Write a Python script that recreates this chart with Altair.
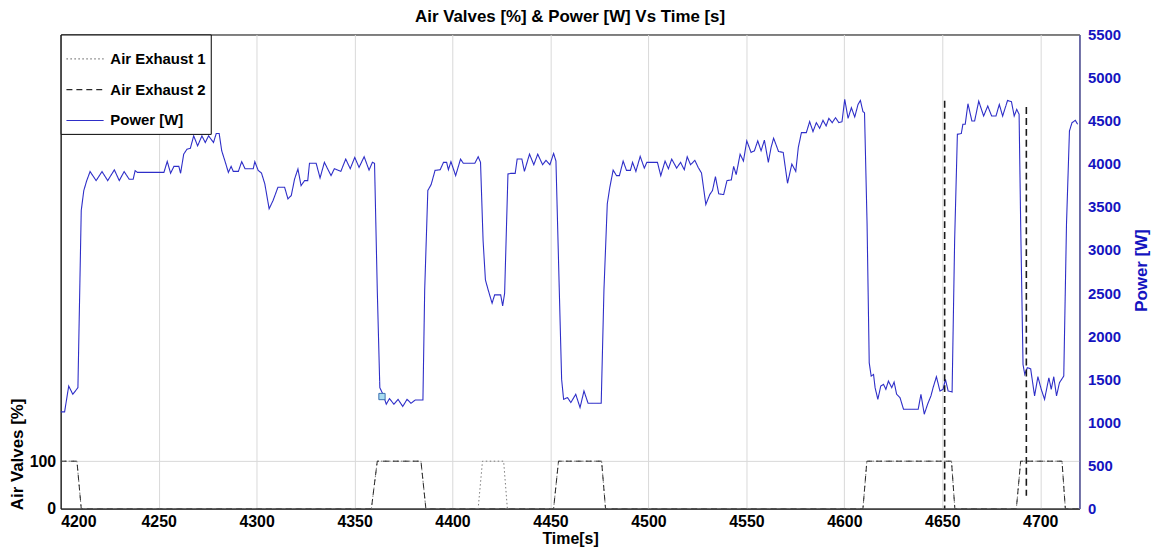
import altair as alt
import pandas as pd

# ---------------- data ----------------
time_power = [
    4200.0, 4202.0, 4204.1, 4206.2, 4208.8, 4210.5, 4211.8, 4213.3, 4215.0, 4218.1,
    4221.1, 4224.0, 4227.4, 4229.9, 4232.4, 4235.0, 4237.0, 4238.0, 4239.2, 4252.7,
    4254.4, 4256.1, 4257.8, 4260.3, 4261.2, 4262.8, 4264.5, 4266.2, 4267.9, 4269.9,
    4272.1, 4273.8, 4275.5, 4278.0, 4279.4, 4280.9, 4282.2, 4283.9, 4285.6, 4287.0,
    4288.1, 4290.7, 4292.4, 4294.1, 4298.3, 4299.1, 4300.8, 4302.5, 4304.2, 4306.4,
    4308.4, 4310.9, 4314.3, 4316.0, 4317.7, 4319.4, 4321.1, 4322.7, 4324.5, 4326.1,
    4327.0, 4330.4, 4332.4, 4334.6, 4338.0, 4339.7, 4343.0, 4345.5, 4347.8, 4350.1,
    4352.3, 4354.9, 4357.4, 4359.1, 4360.2, 4361.6, 4362.9, 4364.5, 4366.2, 4367.8,
    4370.1, 4372.2, 4374.6, 4376.8, 4378.8, 4381.0, 4384.9, 4385.8, 4387.4, 4389.1,
    4391.1, 4393.7, 4395.4, 4397.0, 4397.9, 4399.2, 4401.6, 4404.1, 4405.5, 4411.4,
    4413.1, 4414.3, 4415.6, 4416.8, 4418.2, 4420.2, 4421.5, 4424.6, 4425.6, 4426.6,
    4428.3, 4429.7, 4432.0, 4433.0, 4435.4, 4436.7, 4439.3, 4441.5, 4443.5, 4446.0,
    4447.7, 4449.7, 4451.6, 4452.8, 4454.5, 4455.7, 4456.7, 4458.7, 4460.4, 4462.9,
    4465.1, 4467.1, 4469.2, 4475.9, 4477.3, 4479.0, 4480.3, 4482.0, 4483.7, 4485.2,
    4487.1, 4488.8, 4490.8, 4491.9, 4493.6, 4495.8, 4497.9, 4499.2, 4504.6, 4506.3,
    4508.5, 4510.2, 4511.9, 4514.4, 4516.4, 4518.3, 4519.8, 4521.5, 4523.7, 4525.4,
    4527.1, 4529.3, 4531.3, 4532.7, 4534.2, 4535.9, 4538.4, 4540.1, 4542.3, 4543.5,
    4544.8, 4546.8, 4548.5, 4550.2, 4552.4, 4554.1, 4555.8, 4557.5, 4559.2, 4561.2,
    4562.6, 4563.9, 4566.4, 4568.8, 4571.0, 4573.2, 4575.2, 4576.5, 4578.1, 4580.6,
    4582.3, 4584.0, 4585.7, 4587.4, 4589.1, 4590.7, 4592.1, 4593.8, 4595.5, 4597.2,
    4598.8, 4600.2, 4601.9, 4603.6, 4605.3, 4607.0, 4608.2, 4609.5, 4610.3, 4611.6,
    4612.7, 4613.7, 4614.9, 4615.7, 4617.1, 4618.6, 4620.0, 4621.2, 4622.5, 4624.2,
    4625.4, 4626.7, 4628.4, 4630.2, 4637.7, 4639.1, 4640.8, 4642.5, 4644.2, 4645.3,
    4647.0, 4648.8, 4650.4, 4651.6, 4653.0, 4655.0, 4656.3, 4657.7, 4659.7, 4660.5,
    4661.7, 4663.1, 4665.1, 4666.5, 4668.6, 4671.1, 4673.2, 4675.2, 4677.4, 4679.1,
    4680.8, 4683.3, 4685.3, 4686.7, 4688.0, 4689.2, 4690.0, 4691.2, 4692.1, 4693.4,
    4695.1, 4697.1, 4698.8, 4700.5, 4702.2, 4704.4, 4705.6, 4706.9, 4708.3, 4709.8,
    4712.0, 4713.4, 4714.9, 4716.2, 4717.9, 4719.1,
]
power_w = [
    1122, 1122, 1422, 1326, 1403, 3459, 3690, 3805, 3910, 3805,
    3910, 3805, 3930, 3805, 3910, 3820, 3820, 3920, 3900, 3900,
    4028, 3890, 3970, 3970, 3890, 4112, 4170, 4181, 4324, 4208,
    4324, 4247, 4324, 4247, 4351, 4351, 4151, 4028, 3900, 3970,
    3912, 3912, 4025, 3943, 3943, 4025, 3924, 3893, 3767, 3478,
    3574, 3728, 3728, 3593, 3632, 3824, 3940, 3747, 3805, 3805,
    4006, 4006, 3836, 4017, 3863, 3943, 3912, 4055, 3943, 4074,
    3958, 4082, 3927, 4017, 4006, 2537, 1403, 1326, 1211, 1276,
    1211, 1268, 1185, 1268, 1222, 1260, 1260, 2537, 3690, 3759,
    3924, 3931, 4017, 4017, 3931, 4025, 3863, 4055, 4006, 4006,
    4082, 4017, 3113, 2652, 2537, 2383, 2479, 2479, 2352, 2498,
    3882, 3889, 3889, 4055, 4055, 3912, 4112, 3989, 4112, 3989,
    4040, 3989, 4120, 4032, 2537, 1499, 1268, 1288, 1230, 1326,
    1172, 1364, 1222, 1222, 2537, 3536, 3728, 3927, 3863, 3863,
    4032, 3924, 3924, 4017, 3912, 4086, 3950, 4017, 4017, 3863,
    4032, 3943, 4055, 3950, 4017, 3931, 4082, 3989, 4040, 3958,
    3893, 3528, 3643, 3690, 3851, 3651, 3643, 3805, 3813, 3970,
    3874, 4112, 4032, 4266, 4132, 4151, 4266, 4151, 4274, 4017,
    4189, 4297, 4143, 4132, 3774, 3997, 3912, 4189, 4362, 4362,
    4489, 4374, 4477, 4412, 4504, 4439, 4528, 4477, 4535, 4477,
    4489, 4747, 4528, 4651, 4543, 4689, 4735, 4605, 4593, 3305,
    1691, 1537, 1557, 1403, 1268, 1422, 1441, 1384, 1480, 1403,
    1468, 1326, 1288, 1153, 1153, 1326, 1095, 1211, 1307, 1403,
    1530, 1364, 1384, 1499, 1364, 1353, 3113, 4343, 4351, 4458,
    4458, 4697, 4497, 4497, 4727, 4554, 4670, 4554, 4554, 4689,
    4554, 4735, 4720, 4554, 4631, 4574, 3305, 1672, 1557, 1634,
    1622, 1307, 1530, 1384, 1268, 1518, 1384, 1530, 1307, 1460,
    1537, 3305, 4381, 4477, 4504, 4458,
]

valve_t = [4200, 4208.3, 4210.5, 4358.6, 4361.6, 4383.9, 4386.4, 4413.1, 4415.3, 4426.1,
           4428.0, 4451.6, 4454.1, 4476.1, 4478.1, 4609.5, 4611.5, 4654.7, 4656.4, 4687.8,
           4690.0, 4711.1, 4712.8, 4720]
exhaust1 = [100, 100, 0, 0, 100, 100, 0, 0, 100, 100,
            0, 0, 100, 100, 0, 0, 100, 100, 0, 0,
            100, 100, 0, 0]
exhaust2 = [100, 100, 0, 0, 100, 100, 0, 0, 0, 0,
            0, 0, 100, 100, 0, 0, 100, 100, 0, 0,
            100, 100, 0, 0]

spike_t = [4651.2, 4692.9]
spike_top = [860, 847]
spike_bot = [0, 27]

marker_t = [4364.0]
marker_p = [1300]

series_names = ["Air Exhaust 1", "Air Exhaust 2", "Power [W]"]
x_ticks = [4200, 4250, 4300, 4350, 4400, 4450, 4500, 4550, 4600, 4650, 4700]
left_ticks = [0, 100]
right_ticks = [0, 500, 1000, 1500, 2000, 2500, 3000, 3500, 4000, 4500, 5000, 5500]

# ---------------- tables ----------------
n = len(valve_t)
valves_df = pd.DataFrame({
    "t": valve_t + valve_t,
    "v": exhaust1 + exhaust2,
    "series": [series_names[0]] * n + [series_names[1]] * n,
})
power_df = pd.DataFrame({"t": time_power, "p": power_w, "series": series_names[2]})
spike_df = pd.DataFrame({"t": spike_t, "top": spike_top, "bot": spike_bot})
marker_df = pd.DataFrame({"t": marker_t, "p": marker_p})

FONT = "Liberation Sans"
BLUE = "#2e2ec8"

color_scale = alt.Scale(domain=series_names, range=["#7a7a7a", "#2a2a2a", BLUE])
dash_scale = alt.Scale(domain=series_names, range=[[1.5, 2.5], [6, 4], [1, 0]])

legend = alt.Legend(
    title=None, orient="none", legendX=0, legendY=0,
    fillColor="white", strokeColor="black", padding=5, rowPadding=3,
    labelFontSize=15, labelFontWeight="bold", labelColor="black", labelFont=FONT,
    symbolType="stroke", symbolSize=1400, symbolStrokeWidth=1.2, labelOffset=6,
)

x_scale = alt.Scale(domain=[4200, 4720], nice=False, zero=False)
x_axis = alt.Axis(
    values=x_ticks, format="d", title="Time[s]", grid=True, gridColor="#d9d9d9",
    ticks=False, labelPadding=5, labelFontSize=16, labelFontWeight="bold",
    labelColor="black", titleFontSize=16, titleFontWeight="bold", titleColor="black",
    titlePadding=1, domainColor="black",
)
left_axis = alt.Axis(
    values=left_ticks, format="d", title="Air Valves [%]", grid=True, gridColor="#d9d9d9",
    ticks=False, labelPadding=5, labelFontSize=16, labelFontWeight="bold",
    labelColor="black", titleFontSize=17, titleFontWeight="bold", titleColor="black",
    titleAngle=270, titleAlign="center", titleBaseline="middle",
    titleX=-43, titleY=422, domainColor="black",
)
right_axis = alt.Axis(
    orient="right", values=right_ticks, format="d", title="Power [W]", grid=False,
    ticks=False, labelPadding=8, labelFontSize=15, labelFontWeight="bold",
    labelColor="#1414c0", titleFontSize=17, titleFontWeight="bold", titleColor="#1414c0",
    titleAngle=270, titleAlign="center", titleBaseline="middle",
    titleX=62, titleY=237, domainColor="#6b6bb5", domainWidth=1.5,
)

x_enc = alt.X("t:Q", scale=x_scale, axis=x_axis)

valves = alt.Chart(valves_df).mark_line(strokeWidth=1, clip=True).encode(
    x=x_enc,
    y=alt.Y("v:Q", scale=alt.Scale(domain=[0, 1000], nice=False), axis=left_axis),
    color=alt.Color("series:N", scale=color_scale, legend=legend),
    strokeDash=alt.StrokeDash("series:N", scale=dash_scale, legend=legend),
)

rules = alt.Chart(spike_df).mark_rule(color="#1a1a1a", strokeWidth=1.6, strokeDash=[7, 4]).encode(
    x=x_enc,
    y=alt.Y("top:Q", scale=alt.Scale(domain=[0, 1000], nice=False), axis=None),
    y2="bot:Q",
)

power = alt.Chart(power_df).mark_line(strokeWidth=1.1, clip=True).encode(
    x=x_enc,
    y=alt.Y("p:Q", scale=alt.Scale(domain=[0, 5500], nice=False), axis=right_axis),
    color=alt.Color("series:N", scale=color_scale, legend=legend),
    strokeDash=alt.StrokeDash("series:N", scale=dash_scale, legend=legend),
)

marker = alt.Chart(marker_df).mark_point(
    shape="square", filled=True, fill="#a8dcf0", stroke="#3a70b0", strokeWidth=1, size=40, opacity=1
).encode(
    x=x_enc,
    y=alt.Y("p:Q", scale=alt.Scale(domain=[0, 5500], nice=False), axis=None),
)

chart = alt.layer(valves, power, rules, marker).resolve_scale(
    y="independent"
).properties(
    width=1025, height=477,
    autosize=alt.AutoSizeParams(type="none"),
    padding={"left": 53, "top": 25, "right": 72, "bottom": 41},
    title=alt.Title("Air Valves [%] & Power [W] Vs Time [s]", fontSize=17, fontWeight="bold",
                    color="black", anchor="middle", offset=2, font=FONT),
).configure(font=FONT).configure_view(stroke="black", strokeWidth=1)

chart.save("out.html", embed_options={"renderer": "svg", "actions": False})
